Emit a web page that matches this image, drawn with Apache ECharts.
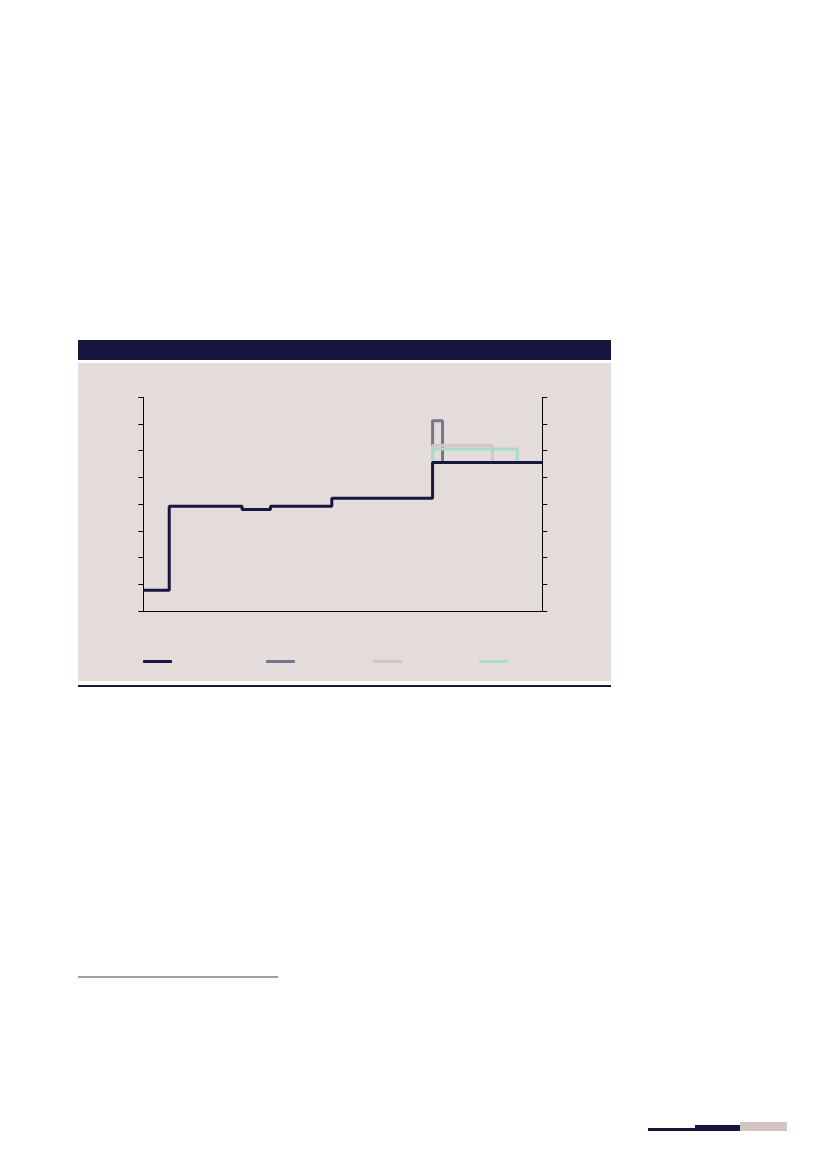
<!DOCTYPE html>
<html>
<head>
<meta charset="utf-8">
<script src="https://cdn.jsdelivr.net/npm/echarts@6/dist/echarts.min.js"></script>
<style>
  html, body { margin: 0; padding: 0; background: #ffffff; }
  .box { position: absolute; }
  #main { position: absolute; left: 0; top: 0; width: 827px; height: 1169px; }
</style>
</head>
<body>
<!-- page frame -->
<div class="box" style="left:78px;top:340px;width:533px;height:20px;background:#16163f;"></div>
<div class="box" style="left:78px;top:363px;width:533px;height:318px;background:#e3dcdb;"></div>
<div class="box" style="left:78px;top:685px;width:533px;height:2px;background:#16163f;"></div>
<div class="box" style="left:78px;top:976px;width:200px;height:2px;background:#a0a0a0;"></div>
<div class="box" style="left:648px;top:1128px;width:47px;height:3px;background:#16163f;"></div>
<div class="box" style="left:695px;top:1125px;width:45px;height:6px;background:#16163f;"></div>
<div class="box" style="left:740px;top:1122px;width:47px;height:9px;background:#d3c5c5;"></div>

<div id="main"></div>
<script>
// x = period index (0..40), y = rate level
var mainLine = [[0, 0.39], [2.6, 1.96], [9.9, 1.9], [12.75, 1.96], [18.9, 2.11], [29, 2.78], [40, 2.78]];
var grayLine = [[29, 2.78], [30, 3.56], [30, 2.78]];
var pinkLine = [[29, 2.78], [35, 3.1], [35, 2.78]];
var greenLine = [[29, 2.78], [37.5, 3.03], [37.5, 2.78]];

var seriesNames = ['s1', 's2', 's3', 's4'];
var seriesColors = ['#16163f', '#75758f', '#d3c5c5', '#acdbc8'];
var legendLeft = [143, 266, 373, 479];

var myChart = echarts.init(document.getElementById('main'));

function yAx(pos) {
    return {
        type: 'value',
        position: pos,
        min: 0,
        max: 4,
        interval: 0.5,
        axisLine: { show: true, lineStyle: { color: '#000', width: 1 } },
        axisTick: { show: true, inside: false, length: 5, lineStyle: { color: '#000', width: 1 } },
        axisLabel: { show: false },
        splitLine: { show: false }
    };
}

var legends = seriesNames.map(function (n, i) {
    return {
        data: [n],
        left: legendLeft[i],
        top: 660,
        padding: 0,
        icon: 'roundRect',
        itemWidth: 29,
        itemHeight: 3,
        selectedMode: false,
        formatter: function () { return ''; },
        textStyle: { fontSize: 1 }
    };
});

var option = {
    animation: false,
    grid: { left: 143.3, right: 284.7, top: 397.3, bottom: 558 },
    legend: legends,
    xAxis: {
        type: 'value',
        min: 0,
        max: 40,
        axisLine: { show: true, onZero: false, lineStyle: { color: '#000', width: 1 } },
        axisTick: { show: false },
        axisLabel: { show: false },
        splitLine: { show: false }
    },
    yAxis: [yAx('left'), yAx('right')],
    series: [
        { name: seriesNames[0], type: 'line', step: 'end', data: mainLine, z: 5 },
        { name: seriesNames[1], type: 'line', step: 'start', data: grayLine, z: 2 },
        { name: seriesNames[2], type: 'line', step: 'start', data: pinkLine, z: 3 },
        { name: seriesNames[3], type: 'line', step: 'start', data: greenLine, z: 4 }
    ].map(function (s, i) {
        s.showSymbol = false;
        s.symbol = 'none';
        s.color = seriesColors[i];
        s.lineStyle = { color: seriesColors[i], width: 3 };
        return s;
    })
};

myChart.setOption(option);
</script>
</body>
</html>
